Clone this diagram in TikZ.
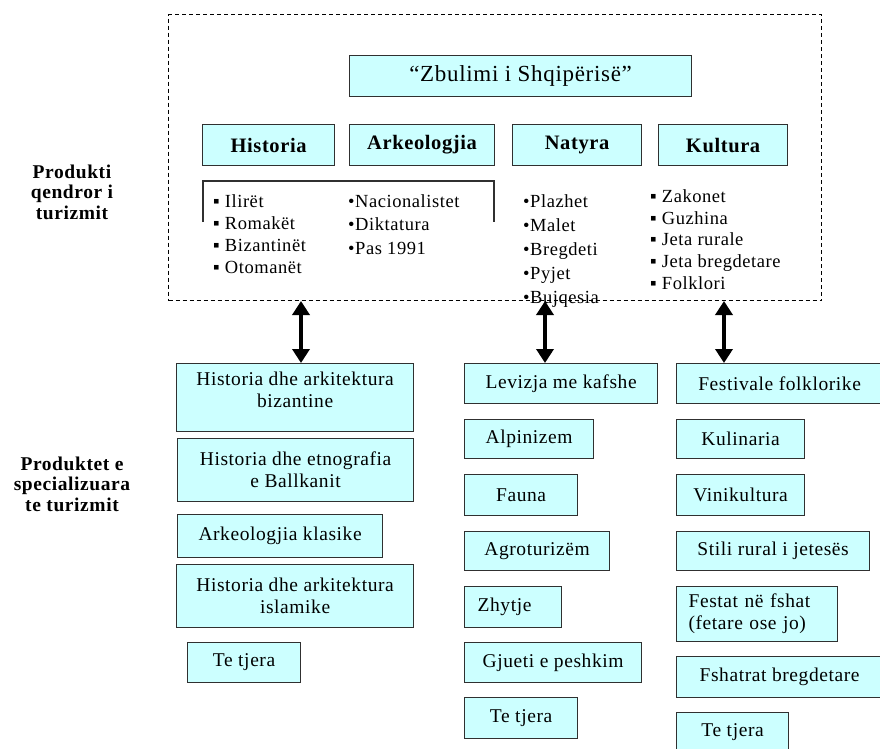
\documentclass[tikz,border=0pt]{standalone}
\usepackage{fontspec}
\setmainfont{Liberation Serif}[LetterSpace=3]
\usepackage{tikz}
\usetikzlibrary{arrows.meta}

\definecolor{boxfill}{HTML}{CCFFFF}
\definecolor{boxline}{HTML}{303030}

\tikzset{
  pbox/.style={draw=boxline, fill=boxfill, line width=1.2pt, inner sep=0pt, anchor=north west,
    font=\fontsize{19.5}{22}\selectfont},
  catbox/.style={pbox, minimum height=41pt, font=\fontsize{20.5}{23}\selectfont\bfseries},
  corebox/.style={draw, dash pattern=on 4pt off 3pt, line width=1pt, anchor=north west, inner sep=0pt},
  dblarrow/.style={{Triangle[width=17pt,length=14pt]}-{Triangle[width=17pt,length=14pt]}, line width=3.5pt},
  lbl/.style={font=\fontsize{19.5}{20.5}\selectfont\bfseries, align=center},
  lst/.style={anchor=base west, align=left, inner sep=0pt},
}

\begin{document}
\begin{tikzpicture}[x=1pt, y=-1pt]
\useasboundingbox (0,0) rectangle (880,748);
\clip (0,0) rectangle (880,748);

% Core product frame
\node[corebox, minimum width=653pt, minimum height=286pt] (core) at (168,14) {};
\node[pbox, minimum width=342pt, minimum height=41pt, font=\fontsize{23}{26}\selectfont] (title) at (349,55) {“Zbulimi i Shqipërisë”};

% Categories
\node[catbox, minimum width=132pt] (hist) at (202,124) {Historia};
\node[catbox, minimum width=145pt] (arke) at (349,124) {Arkeologjia};
\node[catbox, minimum width=129pt] (natyra) at (512,124) {Natyra};
\node[catbox, minimum width=129pt] (kult) at (658,124) {Kultura};

% Bracket over the history lists
\draw[boxline, line width=1.2pt] (203,222) |- (494,181) -- (494,222);

% Bullet lists (anchored at the baseline of the last line)
\node[lst, font=\fontsize{18.5}{21.7}\selectfont] (histlist) at (213,273) {▪ Ilirët\\▪ Romakët\\▪ Bizantinët\\▪ Otomanët};
\node[lst, font=\fontsize{18.5}{23.5}\selectfont] (arkelist) at (348,254) {•Nacionalistet\\•Diktatura\\•Pas 1991};
\node[lst, font=\fontsize{18.5}{24}\selectfont] (natlist) at (523,303) {•Plazhet\\•Malet\\•Bregdeti\\•Pyjet\\•Bujqesia};
\node[lst, font=\fontsize{18.5}{21.6}\selectfont] (kultlist) at (650,289) {▪ Zakonet\\▪ Guzhina\\▪ Jeta rurale\\▪ Jeta bregdetare\\▪ Folklori};

% Side labels
\node[lbl] (corelbl) at (72,192) {Produkti\\qendror i\\turizmit};
\node[lbl] (speclbl) at (72,484) {Produktet e\\specializuara\\te turizmit};

% Specialised products - history column
\node[pbox, minimum width=237pt, align=center, text height=44pt, text depth=24pt] (hb1) at (176,363) {Historia dhe arkitektura\\bizantine};
\node[pbox, minimum width=236pt, minimum height=63pt, align=center] (hb2) at (177,438) {Historia dhe etnografia\\e Ballkanit};
\node[pbox, minimum width=205pt, minimum height=43pt] (hb3) at (177,514) {Arkeologjia klasike};
\node[pbox, minimum width=237pt, minimum height=63pt, align=center] (hb4) at (176,564) {Historia dhe arkitektura\\islamike};
\node[pbox, minimum width=113pt, minimum height=40pt] (hb5) at (187,642) {Te tjera};

% Specialised products - nature column
\node[pbox, minimum width=193pt, minimum height=40pt] (nb1) at (464,363) {Levizja me kafshe};
\node[pbox, minimum width=129pt, minimum height=39pt] (nb2) at (464,419) {Alpinizem};
\node[pbox, minimum width=113pt, minimum height=41pt] (nb3) at (464,474) {Fauna};
\node[pbox, minimum width=145pt, minimum height=39pt] (nb4) at (464,531) {Agroturizëm};
\node[pbox, inner xsep=13pt, text width=71pt, align=left, minimum height=41pt] (nb5) at (464,586) {Zhytje};
\node[pbox, minimum width=177pt, minimum height=40pt] (nb6) at (464,642) {Gjueti e peshkim};
\node[pbox, minimum width=113pt, minimum height=41pt] (nb7) at (464,697) {Te tjera};

% Specialised products - culture column
\node[pbox, minimum width=206pt, minimum height=40pt] (kb1) at (676,363) {Festivale folklorike};
\node[pbox, minimum width=128pt, minimum height=39pt] (kb2) at (676,419) {Kulinaria};
\node[pbox, minimum width=128pt, minimum height=41pt] (kb3) at (676,474) {Vinikultura};
\node[pbox, minimum width=193pt, minimum height=39pt] (kb4) at (676,531) {Stili rural i jetesës};
\node[pbox, inner xsep=12pt, text width=137pt, align=left, minimum height=55pt] (kb5) at (676,586) {Festat në fshat\\(fetare ose jo)};
\node[pbox, minimum width=206pt, minimum height=41pt] (kb6) at (676,656) {Fshatrat bregdetare};
\node[pbox, minimum width=112pt, minimum height=40pt] (kb7) at (676,712) {Te tjera};

% Links between core and specialised products
\coordinate (lnk1) at (301,301);
\coordinate (lnk2) at (545,301);
\coordinate (lnk3) at (724,301);
\draw[dblarrow] (lnk1) -- (lnk1 |- hb1.north);
\draw[dblarrow] (lnk2) -- (lnk2 |- nb1.north);
\draw[dblarrow] (lnk3) -- (lnk3 |- kb1.north);

\end{tikzpicture}
\end{document}
